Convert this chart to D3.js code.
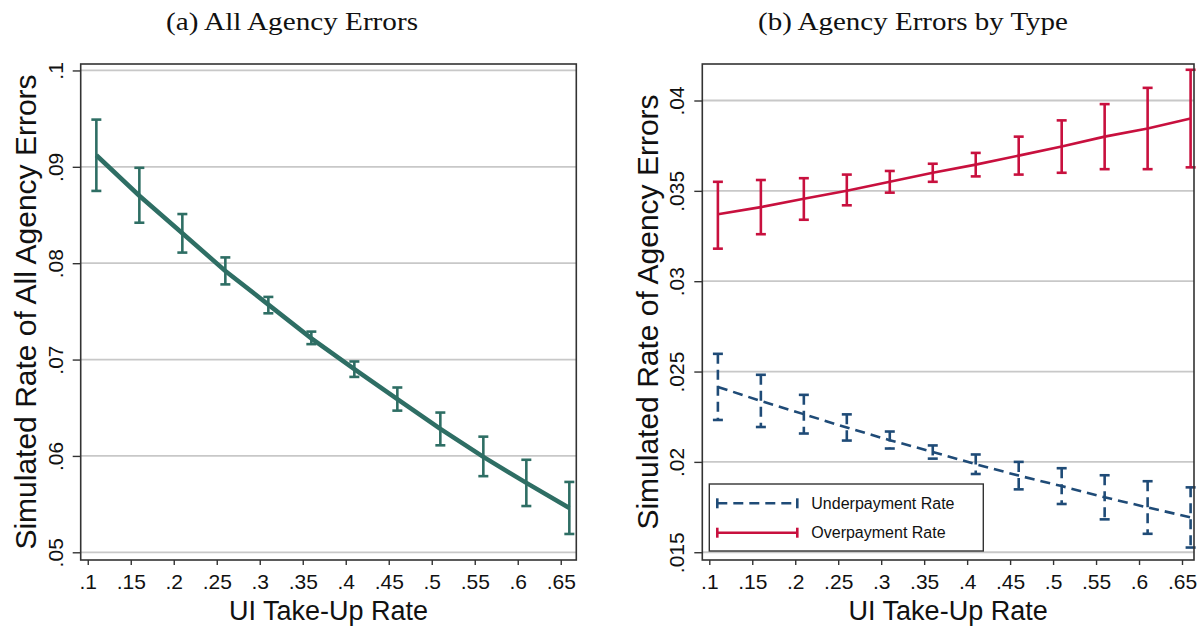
<!DOCTYPE html>
<html>
<head>
<meta charset="utf-8">
<script src="https://cdnjs.cloudflare.com/ajax/libs/d3/7.8.5/d3.min.js"></script>
<style>
  body { margin: 0; background: #fff; }
  svg { display: block; }
  .tick text { font-family: "Liberation Sans", Arial, sans-serif; fill: #111; }
</style>
</head>
<body>
<div id="chart"></div>
<script>
//
// Data
//
var takeup = [.11, .16, .21, .26, .31, .36, .41, .46, .51, .56, .61, .66];

var allMean = [.0912, .0870, .0831, .0792, .0757, .0722, .0690, .0659, .0628, .0599, .0572, .0546];
var allLo   = [.0875, .0842, .0811, .0778, .0748, .0716, .0682, .0647, .0611, .0579, .0548, .0519];
var allHi   = [.0949, .0899, .0851, .0806, .0765, .0729, .0698, .0671, .0645, .0620, .0596, .0573];

var underMean = [.02415, .02337, .02264, .0219, .0212, .02055, .01987, .01924, .01866, .01804, .01748, .01693];
var underLo   = [.02232, .02193, .02157, .02118, .02074, .02018, .01933, .01848, .01767, .01682, .01602, .01526];
var underHi   = [.02598, .02482, .02371, .02263, .02168, .02091, .02041, .0200, .01965, .01926, .01893, .01859];

var overMean = [.0337, .0341, .03456, .0350, .0355, .0360, .03645, .03695, .03745, .0380, .03845, .0390];
var overLo   = [.0318, .0326, .0334, .0342, .0349, .0355, .0358, .0359, .0360, .0362, .0362, .0363];
var overHi   = [.0355, .0356, .0357, .0359, .0361, .0365, .0371, .0380, .0389, .0398, .0407, .0417];

var xTicks      = [.1, .15, .2, .25, .3, .35, .4, .45, .5, .55, .6, .65];
var leftYTicks  = [.05, .06, .07, .08, .09, .1];
var rightYTicks = [.015, .02, .025, .03, .035, .04];

var seriesNames = ["Underpayment Rate", "Overpayment Rate"];

//
// Global Vars
//
var W = 1203, H = 629,
    plotTop = 64, plotBottom = 560,
    green = "#2e6e64", blue = "#1f4b77", red = "#c8103e",
    gridColor = "#c8c8c8", frameColor = "#333";

function fmt(v) { return String(+v.toFixed(4)).replace(/^0/, ""); }

function series(mean, lo, hi) {
    return takeup.map(function(t, i) { return {x: t, y: mean[i], lo: lo[i], hi: hi[i]}; });
}

var svg = d3.select("#chart").append("svg")
    .attr("width", W)
    .attr("height", H);

//
// Panel
//
function panel(cfg) {
    var x = d3.scaleLinear().domain(cfg.xDom).range([cfg.left, cfg.right]);
    var y = d3.scaleLinear().domain(cfg.yDom).range([plotBottom, plotTop]);
    var g = svg.append("g");

    // grid
    g.append("g").selectAll("line")
        .data(cfg.yTicks)
        .enter().append("line")
        .attr("x1", cfg.left).attr("x2", cfg.right)
        .attr("y1", function(d) { return y(d); })
        .attr("y2", function(d) { return y(d); })
        .attr("stroke", gridColor)
        .attr("stroke-width", 1.8);

    // series
    cfg.series.forEach(function(s) {
        var dash = s.dash || null;
        g.append("path")
            .datum(s.data)
            .attr("fill", "none")
            .attr("stroke", s.color)
            .attr("stroke-width", s.lw)
            .attr("stroke-dasharray", dash)
            .attr("d", d3.line().x(function(d) { return x(d.x); }).y(function(d) { return y(d.y); }));

        var bar = g.append("g").selectAll("g")
            .data(s.data)
            .enter().append("g")
            .attr("stroke", s.color)
            .attr("stroke-width", s.bw);
        bar.append("line")
            .attr("x1", function(d) { return x(d.x); })
            .attr("x2", function(d) { return x(d.x); })
            .attr("y1", function(d) { return y(d.hi); })
            .attr("y2", function(d) { return y(d.lo); })
            .attr("stroke-dasharray", dash);
        bar.append("line")
            .attr("x1", function(d) { return x(d.x) - 5; })
            .attr("x2", function(d) { return x(d.x) + 5; })
            .attr("y1", function(d) { return y(d.hi); })
            .attr("y2", function(d) { return y(d.hi); });
        bar.append("line")
            .attr("x1", function(d) { return x(d.x) - 5; })
            .attr("x2", function(d) { return x(d.x) + 5; })
            .attr("y1", function(d) { return y(d.lo); })
            .attr("y2", function(d) { return y(d.lo); });
    });

    // frame
    g.append("rect")
        .attr("x", cfg.left).attr("y", plotTop)
        .attr("width", cfg.right - cfg.left)
        .attr("height", plotBottom - plotTop)
        .attr("fill", "none")
        .attr("stroke", frameColor)
        .attr("stroke-width", 1.6);

    // axes
    var xa = g.append("g")
        .attr("transform", "translate(0," + plotBottom + ")")
        .call(d3.axisBottom(x).tickValues(xTicks).tickFormat(fmt).tickSize(5).tickPadding(7));
    xa.select(".domain").remove();
    xa.selectAll(".tick line").attr("stroke", frameColor).attr("stroke-width", 1.4);
    xa.selectAll("text").attr("font-size", 21).attr("dy", "0.71em").attr("y", 14);

    var ya = g.append("g")
        .attr("transform", "translate(" + cfg.left + ",0)")
        .call(d3.axisLeft(y).tickValues(cfg.yTicks).tickFormat(fmt).tickSize(8));
    ya.select(".domain").remove();
    ya.selectAll(".tick line").attr("stroke", frameColor).attr("stroke-width", 1.4);
    ya.selectAll("text")
        .attr("font-size", 21)
        .attr("transform", "rotate(-90)")
        .attr("text-anchor", "middle")
        .attr("x", 0).attr("y", -18).attr("dy", 0);

    // titles
    g.append("text")
        .attr("x", cfg.titleX).attr("y", 30)
        .attr("text-anchor", "middle")
        .attr("font-family", "'Liberation Serif', 'Times New Roman', serif")
        .attr("font-size", 26)
        .attr("textLength", cfg.titleLen)
        .attr("lengthAdjust", "spacingAndGlyphs")
        .attr("fill", "#111")
        .text(cfg.title);

    g.append("text")
        .attr("x", (cfg.left + cfg.right) / 2).attr("y", 620)
        .attr("text-anchor", "middle")
        .attr("font-family", "'Liberation Sans', Arial, sans-serif")
        .attr("font-size", 27)
        .attr("fill", "#111")
        .text("UI Take-Up Rate");

    g.append("text")
        .attr("transform", "translate(" + cfg.yTitleX + "," + (plotTop + plotBottom) / 2 + ") rotate(-90)")
        .attr("text-anchor", "middle")
        .attr("font-family", "'Liberation Sans', Arial, sans-serif")
        .attr("font-size", 30)
        .attr("fill", "#111")
        .text(cfg.yTitle);

    return {x: x, y: y, g: g};
}

panel({
    left: 80.7, right: 576.3,
    xDom: [.0918, .6681], yDom: [.0492, .10067],
    yTicks: leftYTicks,
    title: "(a) All Agency Errors", titleX: 292, titleLen: 252,
    yTitle: "Simulated Rate of All Agency Errors", yTitleX: 36,
    series: [{data: series(allMean, allLo, allHi), color: green, lw: 4.5, bw: 2.6}]
});

var right = panel({
    left: 702.3, right: 1194,
    xDom: [.09186, .66396], yDom: [.01457, .04202],
    yTicks: rightYTicks,
    title: "(b) Agency Errors by Type", titleX: 913, titleLen: 310,
    yTitle: "Simulated Rate of Agency Errors", yTitleX: 658,
    series: [
        {data: series(underMean, underLo, underHi), color: blue, lw: 2.6, bw: 2.6, dash: "10,6"},
        {data: series(overMean, overLo, overHi), color: red, lw: 2.6, bw: 2.6}
    ]
});

//
// Legend
//
var lg = right.g.append("g").attr("transform", "translate(709.3,484)");
lg.append("rect")
    .attr("width", 274).attr("height", 67)
    .attr("fill", "#fff")
    .attr("stroke", frameColor)
    .attr("stroke-width", 1.4);

var item = lg.selectAll("g.item")
    .data(seriesNames)
    .enter().append("g")
    .attr("class", "item")
    .attr("transform", function(d, i) { return "translate(0," + (19.3 + i * 29.4) + ")"; });

var legColors = [blue, red], legDash = ["10,6", null];
item.append("line")
    .attr("x1", 8).attr("x2", 88)
    .attr("stroke", function(d, i) { return legColors[i]; })
    .attr("stroke-width", 2.6)
    .attr("stroke-dasharray", function(d, i) { return legDash[i]; });
item.append("line").attr("x1", 8).attr("x2", 8).attr("y1", -5).attr("y2", 5)
    .attr("stroke", function(d, i) { return legColors[i]; }).attr("stroke-width", 2.6);
item.append("line").attr("x1", 88).attr("x2", 88).attr("y1", -5).attr("y2", 5)
    .attr("stroke", function(d, i) { return legColors[i]; }).attr("stroke-width", 2.6);
item.append("text")
    .attr("x", 102).attr("dy", "0.36em")
    .attr("font-family", "'Liberation Sans', Arial, sans-serif")
    .attr("font-size", 16)
    .attr("fill", "#111")
    .text(function(d) { return d; });
</script>
</body>
</html>
